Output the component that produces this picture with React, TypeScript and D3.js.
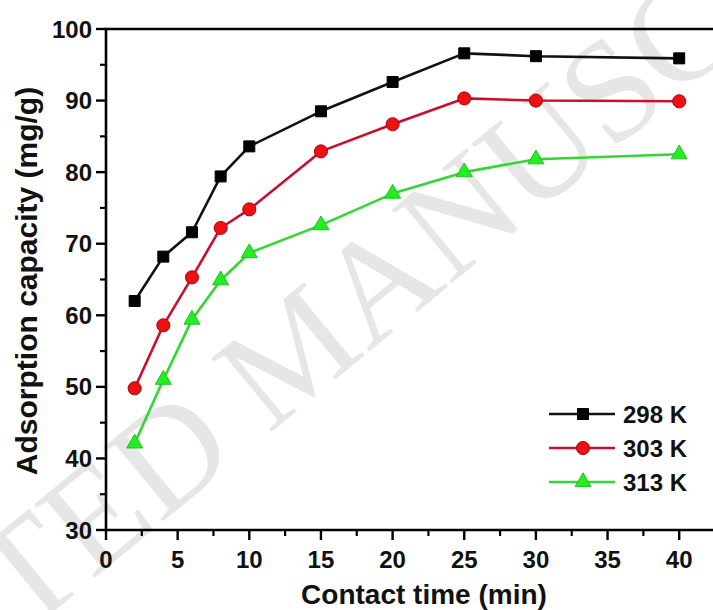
import React from "react";
import * as d3 from "d3";

// Contact time (min)
const times = [2, 4, 6, 8, 10, 15, 20, 25, 30, 40];
// Adsorption capacity (mg/g) at each temperature
const q298 = [62.0, 68.2, 71.6, 79.4, 83.6, 88.5, 92.6, 96.6, 96.2, 95.9];
const q303 = [49.8, 58.6, 65.3, 72.2, 74.8, 82.9, 86.7, 90.3, 90.0, 89.9];
const q313 = [42.1, 51.0, 59.4, 64.9, 68.7, 72.6, 77.0, 80.0, 81.8, 82.5];
const seriesNames = ["298 K", "303 K", "313 K"];
const xMajorTicks = [0, 5, 10, 15, 20, 25, 30, 35, 40];
const yMajorTicks = [30, 40, 50, 60, 70, 80, 90, 100];

const W = 713;
const H = 610;
const FONT = "'Liberation Sans', Arial, Helvetica, sans-serif";

const series = [
  { name: seriesNames[0], values: q298, line: "#111111", fill: "#000000", stroke: "#000000", shape: d3.symbolSquare, size: 121 },
  { name: seriesNames[1], values: q303, line: "#c8102e", fill: "#ee1111", stroke: "#b00010", shape: d3.symbolCircle, size: 135 },
  { name: seriesNames[2], values: q313, line: "#33d633", fill: "#22ee22", stroke: "#22c022", shape: d3.symbolTriangle, size: 110 },
];

export default function App() {
  const x = d3.scaleLinear().domain([0, 45]).range([106, 106 + 45 * 14.33]);
  const y = d3.scaleLinear().domain([30, 100]).range([530, 29]);
  const left = x(0);
  const bottom = y(30);
  const top = y(100);

  const xMinor = d3.range(2.5, 45, 5);
  const yMinor = d3.range(35, 100, 10);

  const line = d3
    .line<[number, number]>()
    .x((d) => x(d[0]))
    .y((d) => y(d[1]));

  const legendRows = [414, 448, 482];

  return (
    <svg
      width={W}
      height={H}
      style={{ position: "absolute", left: 0, top: 0, background: "#fff" }}
    >
      <rect x={0} y={0} width={W} height={H} fill="#ffffff" />

      {/* faint diagonal watermark */}
      <text
        transform="translate(326,387) rotate(-39.5)"
        textAnchor="middle"
        fontFamily="'Liberation Serif', 'Times New Roman', serif"
        fontSize={145}
        fill="#e6e6e6"
      >
        ACCEPTED MANUSCRIPT
      </text>

      {/* series lines */}
      {series.map((s) => (
        <path
          key={s.name + "-line"}
          d={line(times.map((t, i) => [t, s.values[i]]) as [number, number][]) || ""}
          fill="none"
          stroke={s.line}
          strokeWidth={2.6}
          strokeLinejoin="round"
        />
      ))}

      {/* series markers */}
      {series.map((s) =>
        times.map((t, i) => (
          <path
            key={s.name + "-m-" + i}
            d={d3.symbol().type(s.shape).size(s.size)() || ""}
            transform={`translate(${x(t)},${y(s.values[i])})`}
            fill={s.fill}
            stroke={s.stroke}
            strokeWidth={1}
          />
        ))
      )}

      {/* frame: left axis, bottom axis, top border */}
      <line x1={left} x2={left} y1={top} y2={bottom} stroke="#000" strokeWidth={2.6} />
      <line x1={left - 1.3} x2={W + 5} y1={bottom} y2={bottom} stroke="#000" strokeWidth={2.6} />
      <line x1={left - 1.3} x2={W + 5} y1={top} y2={top} stroke="#000" strokeWidth={2.6} />

      {/* x ticks */}
      {xMajorTicks.map((t) => (
        <g key={"xt" + t}>
          <line x1={x(t)} x2={x(t)} y1={bottom} y2={bottom + 10} stroke="#000" strokeWidth={2.4} />
          <text
            x={x(t)}
            y={568}
            textAnchor="middle"
            fontFamily={FONT}
            fontWeight="bold"
            fontSize={24}
            fill="#111"
          >
            {t}
          </text>
        </g>
      ))}
      {xMinor.map((t) => (
        <line key={"xm" + t} x1={x(t)} x2={x(t)} y1={bottom} y2={bottom + 6} stroke="#000" strokeWidth={2.2} />
      ))}

      {/* y ticks */}
      {yMajorTicks.map((t) => (
        <g key={"yt" + t}>
          <line x1={left - 10} x2={left} y1={y(t)} y2={y(t)} stroke="#000" strokeWidth={2.4} />
          <text
            x={92}
            y={y(t)}
            textAnchor="end"
            dominantBaseline="central"
            fontFamily={FONT}
            fontWeight="bold"
            fontSize={24}
            fill="#111"
          >
            {t}
          </text>
        </g>
      ))}
      {yMinor.map((t) => (
        <line key={"ym" + t} x1={left - 6} x2={left} y1={y(t)} y2={y(t)} stroke="#000" strokeWidth={2.2} />
      ))}

      {/* axis titles */}
      <text
        x={424}
        y={604}
        textAnchor="middle"
        fontFamily={FONT}
        fontWeight="bold"
        fontSize={28}
        fill="#111"
      >
        Contact time (min)
      </text>
      <text
        transform="translate(37,281) rotate(-90)"
        textAnchor="middle"
        fontFamily={FONT}
        fontWeight="bold"
        fontSize={30}
        fill="#111"
      >
        Adsorption capacity (mg/g)
      </text>

      {/* legend */}
      {series.map((s, i) => (
        <g key={s.name + "-legend"}>
          <line x1={549} x2={615} y1={legendRows[i]} y2={legendRows[i]} stroke={s.line} strokeWidth={2.6} />
          <path
            d={d3.symbol().type(s.shape).size(s.size)() || ""}
            transform={`translate(583,${legendRows[i]})`}
            fill={s.fill}
            stroke={s.stroke}
            strokeWidth={1}
          />
          <text
            x={623}
            y={legendRows[i]}
            dominantBaseline="central"
            fontFamily={FONT}
            fontWeight="bold"
            fontSize={24}
            fill="#111"
          >
            {s.name}
          </text>
        </g>
      ))}
    </svg>
  );
}
